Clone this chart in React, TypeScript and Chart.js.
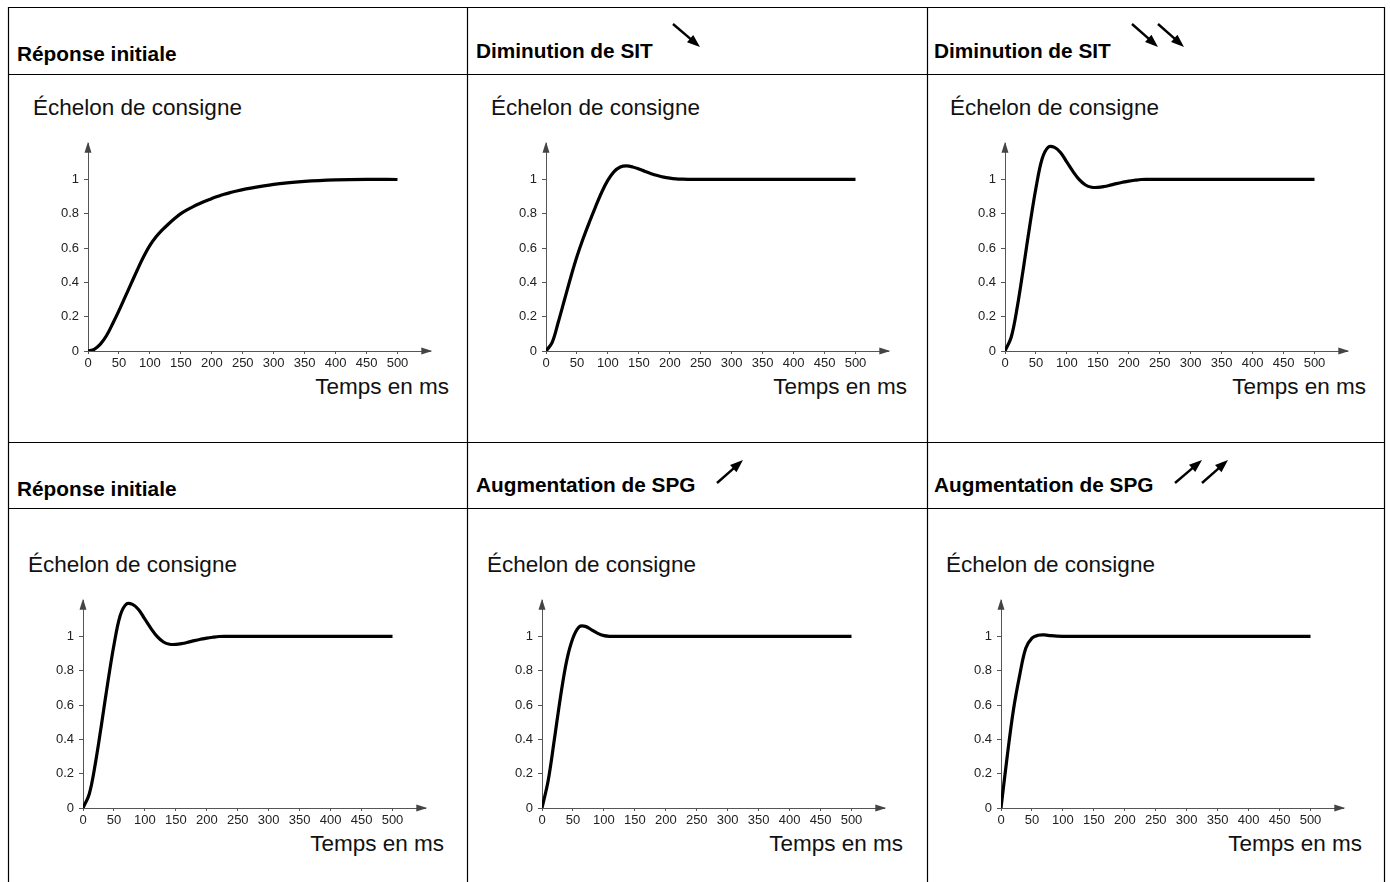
import React, { useEffect, useRef } from "react";
import { Chart, registerables } from "chart.js";

Chart.register(...registerables);

// ---------- DATA ----------
const TIME_MS = [0, 10, 20, 30, 40, 50, 60, 70, 80, 90, 100, 110, 120, 130, 140, 150, 160, 170, 180, 190, 200, 210, 220, 230, 240, 250, 300, 350, 400, 450, 500];

const RESP_INITIAL_SLOW = [0, 0.01, 0.04, 0.09, 0.16, 0.235, 0.315, 0.395, 0.475, 0.55, 0.615, 0.665, 0.705, 0.74, 0.772, 0.8, 0.822, 0.841, 0.858, 0.874, 0.888, 0.901, 0.913, 0.923, 0.932, 0.94, 0.971, 0.988, 0.997, 1.0, 0.999];
const RESP_SIT_DOWN_1 = [0, 0.05, 0.17, 0.3, 0.43, 0.55, 0.655, 0.75, 0.84, 0.925, 0.995, 1.045, 1.072, 1.078, 1.072, 1.06, 1.046, 1.033, 1.022, 1.013, 1.007, 1.003, 1.001, 1.0, 1.0, 1.0, 1.0, 1.0, 1.0, 1.0, 1.0];
const RESP_SIT_DOWN_2 = [0, 0.08, 0.26, 0.49, 0.73, 0.95, 1.12, 1.188, 1.186, 1.155, 1.1, 1.045, 0.998, 0.967, 0.954, 0.953, 0.958, 0.966, 0.975, 0.983, 0.99, 0.995, 0.999, 1.0, 1.0, 1.0, 1.0, 1.0, 1.0, 1.0, 1.0];
const RESP_INITIAL_FAST = [0, 0.08, 0.26, 0.49, 0.73, 0.95, 1.12, 1.188, 1.186, 1.155, 1.1, 1.045, 0.998, 0.967, 0.954, 0.953, 0.958, 0.966, 0.975, 0.983, 0.99, 0.995, 0.999, 1.0, 1.0, 1.0, 1.0, 1.0, 1.0, 1.0, 1.0];
const RESP_SPG_UP_1 = [0, 0.16, 0.4, 0.65, 0.86, 0.99, 1.055, 1.058, 1.038, 1.017, 1.004, 1.0, 1.0, 1.0, 1.0, 1.0, 1.0, 1.0, 1.0, 1.0, 1.0, 1.0, 1.0, 1.0, 1.0, 1.0, 1.0, 1.0, 1.0, 1.0, 1.0];
const RESP_SPG_UP_2 = [0, 0.3, 0.57, 0.77, 0.93, 0.99, 1.006, 1.008, 1.004, 1.001, 1.0, 1.0, 1.0, 1.0, 1.0, 1.0, 1.0, 1.0, 1.0, 1.0, 1.0, 1.0, 1.0, 1.0, 1.0, 1.0, 1.0, 1.0, 1.0, 1.0, 1.0];

const X_TICKS = [0, 50, 100, 150, 200, 250, 300, 350, 400, 450, 500];
const Y_TICKS = [0, 0.2, 0.4, 0.6, 0.8, 1];
const Y_TICK_LABELS = ["0", "0.2", "0.4", "0.6", "0.8", "1"];
const X_AXIS_MAX = 553;
const Y_AXIS_MAX = 1.207;

const PANEL_TITLES = ["Réponse initiale", "Diminution de SIT", "Diminution de SIT", "Réponse initiale", "Augmentation de SPG", "Augmentation de SPG"];
const Y_TITLE = "Échelon de consigne";
const X_TITLE = "Temps en ms";

// ---------- LAYOUT ----------
const FONT = "'Liberation Sans', Arial, Helvetica, sans-serif";
const PX_PER_MS = 0.619;
const PX_PER_UNIT = 172.5;
const Y_AXIS_W = 45;
const X_AXIS_H = 30;
const CANVAS_W = 410;
const CANVAS_H = 250;
const ABOVE_ORIGIN = 220;

type PanelLayout = { ox: number; oy: number; titleX: number; titleBase: number; arrows: number[][] };

const PANELS: PanelLayout[] = [
  { ox: 88, oy: 351, titleX: 17, titleBase: 62, arrows: [] },
  { ox: 546, oy: 351, titleX: 476, titleBase: 58.5, arrows: [[673, 24, 700, 47]] },
  { ox: 1005, oy: 351, titleX: 934, titleBase: 58.5, arrows: [[1132, 24, 1158, 47], [1158, 24, 1184, 47]] },
  { ox: 83, oy: 808, titleX: 17, titleBase: 497, arrows: [] },
  { ox: 542, oy: 808, titleX: 476, titleBase: 493, arrows: [[717, 483, 743, 460]] },
  { ox: 1001, oy: 808, titleX: 934, titleBase: 493, arrows: [[1175, 483, 1202, 460], [1202, 483, 1228, 460]] },
];

const SERIES = [RESP_INITIAL_SLOW, RESP_SIT_DOWN_1, RESP_SIT_DOWN_2, RESP_INITIAL_FAST, RESP_SPG_UP_1, RESP_SPG_UP_2];

const axisArrows = {
  id: "axisArrows",
  afterDraw(chart: any) {
    const { ctx, chartArea } = chart;
    const { left, top, right, bottom } = chartArea;
    ctx.save();
    ctx.fillStyle = "#444";
    ctx.beginPath();
    ctx.moveTo(left, top - 2);
    ctx.lineTo(left - 3.5, top + 9);
    ctx.lineTo(left + 3.5, top + 9);
    ctx.closePath();
    ctx.fill();
    ctx.beginPath();
    ctx.moveTo(right + 2, bottom);
    ctx.lineTo(right - 9, bottom - 3.5);
    ctx.lineTo(right - 9, bottom + 3.5);
    ctx.closePath();
    ctx.fill();
    ctx.restore();
  },
};

function StepChart({ values, layout }: { values: number[]; layout: PanelLayout }) {
  const ref = useRef<HTMLCanvasElement | null>(null);
  useEffect(() => {
    if (!ref.current) return;
    const points = TIME_MS.map((t, i) => ({ x: t, y: values[i] }));
    const chart = new Chart(ref.current, {
      type: "line",
      data: {
        datasets: [
          {
            data: points,
            borderColor: "#000",
            borderWidth: 3.2,
            pointRadius: 0,
            tension: 0.35,
            cubicInterpolationMode: "default",
            borderJoinStyle: "round",
            borderCapStyle: "butt",
            fill: false,
          },
        ],
      },
      options: {
        responsive: false,
        animation: false,
        events: [],
        layout: {
          padding: {
            top: ABOVE_ORIGIN - Y_AXIS_MAX * PX_PER_UNIT,
            right: CANVAS_W - Y_AXIS_W - X_AXIS_MAX * PX_PER_MS,
            left: 0,
            bottom: 0,
          },
        },
        plugins: { legend: { display: false }, tooltip: { enabled: false }, title: { display: false } },
        scales: {
          x: {
            type: "linear",
            min: 0,
            max: X_AXIS_MAX,
            afterBuildTicks: (s: any) => {
              s.ticks = X_TICKS.map((v) => ({ value: v }));
            },
            afterFit: (s: any) => {
              s.height = X_AXIS_H;
            },
            ticks: {
              autoSkip: false,
              maxRotation: 0,
              padding: 2,
              color: "#222",
              font: { family: FONT, size: 13 },
              callback: (v: any) => String(v),
            },
            grid: { drawOnChartArea: false, drawTicks: true, tickLength: 3, color: "#555" },
            border: { display: true, color: "#555", width: 1 },
          },
          y: {
            type: "linear",
            min: 0,
            max: Y_AXIS_MAX,
            afterBuildTicks: (s: any) => {
              s.ticks = Y_TICKS.map((v) => ({ value: v }));
            },
            afterFit: (s: any) => {
              s.width = Y_AXIS_W;
            },
            ticks: {
              autoSkip: false,
              padding: 5,
              color: "#222",
              font: { family: FONT, size: 13 },
              callback: (v: any) => {
                const i = Y_TICKS.indexOf(v);
                return i >= 0 ? Y_TICK_LABELS[i] : String(v);
              },
            },
            grid: { drawOnChartArea: false, drawTicks: true, tickLength: 4, color: "#555" },
            border: { display: true, color: "#555", width: 1 },
          },
        },
      } as any,
      plugins: [axisArrows],
    });
    return () => chart.destroy();
  }, [values]);
  return (
    <canvas
      ref={ref}
      width={CANVAS_W}
      height={CANVAS_H}
      style={{ position: "absolute", left: layout.ox - Y_AXIS_W, top: layout.oy - ABOVE_ORIGIN, width: CANVAS_W, height: CANVAS_H }}
    />
  );
}

function arrowShape(a: number[], key: string) {
  const [x1, y1, x2, y2] = a;
  const dx = x2 - x1;
  const dy = y2 - y1;
  const len = Math.hypot(dx, dy);
  const ux = dx / len;
  const uy = dy / len;
  const nx = -uy;
  const ny = ux;
  const bx = x2 - ux * 13;
  const by = y2 - uy * 13;
  const pts = `${x2},${y2} ${bx + nx * 4.8},${by + ny * 4.8} ${bx - nx * 4.8},${by - ny * 4.8}`;
  return (
    <g key={key}>
      <line x1={x1} y1={y1} x2={bx + ux * 2} y2={by + uy * 2} stroke="#000" strokeWidth={2.4} />
      <polygon points={pts} fill="#000" />
    </g>
  );
}

export default function App() {
  const vLines = [8, 467, 927, 1384];
  const hLines = [7, 74, 442, 508];
  const TITLE_SIZE = 20.8;
  const LABEL_SIZE = 22.5;
  return (
    <div style={{ position: "absolute", left: 0, top: 0, width: 1390, height: 882, overflow: "hidden", background: "#fff", fontFamily: FONT }}>
      <svg width={1390} height={882} style={{ position: "absolute", left: 0, top: 0 }}>
        {hLines.map((y) => (
          <line key={"h" + y} x1={8} y1={y + 0.5} x2={1384.5} y2={y + 0.5} stroke="#000" strokeWidth={1.2} />
        ))}
        {vLines.map((x) => (
          <line key={"v" + x} x1={x + 0.5} y1={7} x2={x + 0.5} y2={882} stroke="#000" strokeWidth={1.2} />
        ))}
        {PANELS.map((p, i) => p.arrows.map((a, j) => arrowShape(a, `a${i}-${j}`)))}
      </svg>
      {PANELS.map((p, i) => (
        <React.Fragment key={i}>
          <div
            style={{
              position: "absolute",
              left: p.titleX,
              top: p.titleBase - 0.8465 * TITLE_SIZE,
              fontSize: TITLE_SIZE,
              lineHeight: `${TITLE_SIZE}px`,
              fontWeight: "bold",
              color: "#000",
              whiteSpace: "nowrap",
            }}
          >
            {PANEL_TITLES[i]}
          </div>
          <div
            style={{
              position: "absolute",
              left: p.ox - 55,
              top: p.oy - 235 - 0.8465 * LABEL_SIZE,
              fontSize: LABEL_SIZE,
              lineHeight: `${LABEL_SIZE}px`,
              color: "#111",
              whiteSpace: "nowrap",
            }}
          >
            {Y_TITLE}
          </div>
          <div
            style={{
              position: "absolute",
              left: p.ox + 361 - 300,
              width: 300,
              textAlign: "right",
              top: p.oy + 44 - 0.8465 * LABEL_SIZE,
              fontSize: LABEL_SIZE,
              lineHeight: `${LABEL_SIZE}px`,
              color: "#111",
              whiteSpace: "nowrap",
            }}
          >
            {X_TITLE}
          </div>
          <StepChart values={SERIES[i]} layout={p} />
        </React.Fragment>
      ))}
    </div>
  );
}
